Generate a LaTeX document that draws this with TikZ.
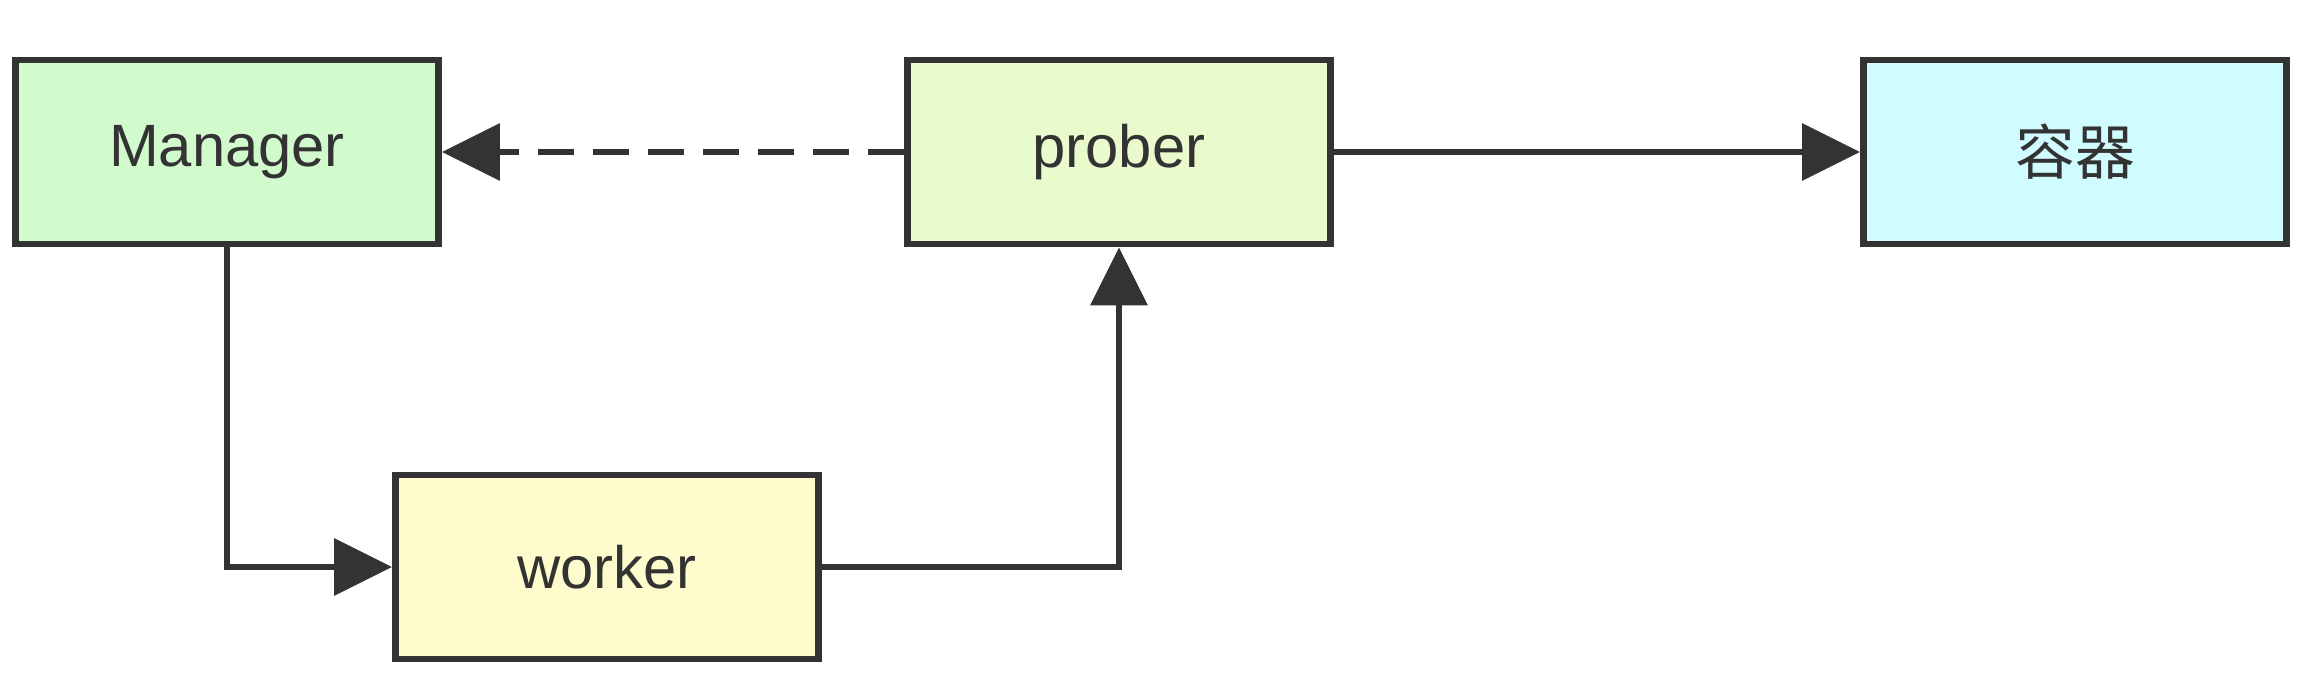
\documentclass[tikz,border=0pt]{standalone}
\usepackage{fontspec}
\setmainfont{Liberation Sans}
\newfontfamily\cjk{Noto Sans CJK SC}
\usepackage{xcolor}
\definecolor{boxline}{HTML}{333333}
\definecolor{mgrgreen}{HTML}{D1FBCC}
\definecolor{probegreen}{HTML}{E9FBCD}
\definecolor{wrkyellow}{HTML}{FEFCCC}
\definecolor{ctrcyan}{HTML}{D0FCFF}
\usepackage{tikz}
\usetikzlibrary{arrows.meta, positioning}

\begin{document}
\begin{tikzpicture}[x=1cm, y=1cm, line width=1.9pt, draw=boxline,
  >={Triangle[length=0.58cm, width=0.56cm]}]
  \useasboundingbox (0,0) rectangle (23.09,6.81);
  \foreach \n/\x/\y/\c/\t in {mgr/2.27/5.29/mgrgreen/Manager, prb/11.19/5.29/probegreen/prober,
      ctr/20.75/5.29/ctrcyan/{\cjk 容器}, wrk/6.07/1.14/wrkyellow/worker}
    \node[draw=boxline, fill=\c, minimum width=4.23cm, minimum height=1.84cm,
      font=\fontsize{17}{20}\selectfont, text=boxline] (\n) at (\x,\y){\t};
  \draw[->, boxline, dash pattern=on 0.36cm off 0.19cm] (prb.west) -- (mgr.east);
  \draw[->, boxline] (prb.east) -- (ctr.west);
  \draw[->, boxline] (mgr.south) |- (wrk.west);
  \draw[->, boxline] (wrk.east) -| (prb.south);
\end{tikzpicture}
\end{document}
